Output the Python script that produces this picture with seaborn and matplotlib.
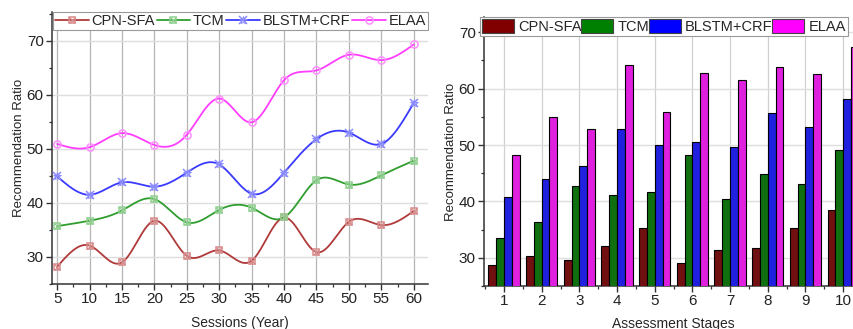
import numpy as np
import pandas as pd
import matplotlib
matplotlib.use("Agg")
import matplotlib.pyplot as plt
import seaborn as sns
from matplotlib.lines import Line2D
from matplotlib.patches import Patch
from matplotlib.ticker import MultipleLocator
from matplotlib.legend_handler import HandlerTuple

# ---------------- data ----------------
methods = ["CPN-SFA", "TCM", "BLSTM+CRF", "ELAA"]

sessions = [5, 10, 15, 20, 25, 30, 35, 40, 45, 50, 55, 60]
line_cpn = [28.2, 32.1, 29.0, 36.7, 30.2, 31.2, 29.3, 37.3, 30.9, 36.5, 35.9, 38.5]
line_tcm = [35.7, 36.7, 38.6, 40.7, 36.4, 38.7, 39.1, 37.3, 44.2, 43.4, 45.1, 47.8]
line_blstm = [44.9, 41.5, 43.8, 43.0, 45.6, 47.1, 41.7, 45.6, 51.8, 53.0, 50.9, 58.5]
line_elaa = [50.9, 50.3, 52.9, 50.7, 52.6, 59.3, 54.9, 62.7, 64.5, 67.4, 66.4, 69.3]

stages = [1, 2, 3, 4, 5, 6, 7, 8, 9, 10]
bar_cpn = [28.8, 30.3, 29.6, 32.1, 35.3, 29.1, 31.4, 31.7, 35.2, 38.4]
bar_tcm = [33.5, 36.3, 42.8, 41.1, 41.6, 48.2, 40.4, 44.8, 43.0, 49.1]
bar_blstm = [40.8, 44.0, 46.2, 52.8, 50.0, 50.6, 49.6, 55.7, 53.2, 58.2]
bar_elaa = [48.2, 55.0, 52.9, 64.1, 55.8, 62.7, 61.6, 63.8, 62.6, 67.3]

line_colors = ["#b03a3a", "#2f9e2f", "#3a3aff", "#ff3dff"]
marker_colors = ["#d88a8a", "#8fcf8f", "#8a8aff", "#ff8fff"]
bar_colors = ["#800000", "#008000", "#0000ff", "#ff00ff"]

# ---------------- helpers ----------------
def natural_spline(x, y, n=400):
    x = np.asarray(x, float)
    y = np.asarray(y, float)
    m = len(x)
    h = np.diff(x)
    A = np.zeros((m, m))
    r = np.zeros(m)
    A[0, 0] = A[-1, -1] = 1.0
    for i in range(1, m - 1):
        A[i, i - 1] = h[i - 1]
        A[i, i] = 2 * (h[i - 1] + h[i])
        A[i, i + 1] = h[i]
        r[i] = 6 * ((y[i + 1] - y[i]) / h[i] - (y[i] - y[i - 1]) / h[i - 1])
    M = np.linalg.solve(A, r)
    xs = np.linspace(x[0], x[-1], n)
    idx = np.clip(np.searchsorted(x, xs) - 1, 0, m - 2)
    x0, x1 = x[idx], x[idx + 1]
    hh = x1 - x0
    a = (x1 - xs) / hh
    b = (xs - x0) / hh
    ys = a * y[idx] + b * y[idx + 1] + ((a ** 3 - a) * M[idx] + (b ** 3 - b) * M[idx + 1]) * hh ** 2 / 6
    return xs, ys

# ---------------- style ----------------
sns.set_theme(style="white")
plt.rcParams["font.family"] = ["Liberation Sans", "DejaVu Sans"]
plt.rcParams["axes.edgecolor"] = "#333333"

W, H = 854, 329
fig = plt.figure(figsize=(W / 100, H / 100), dpi=100)

def fig_rect(l, t, r, b):
    return [l / W, 1 - b / H, (r - l) / W, (b - t) / H]

def style_axis(ax, xgrid_color):
    ax.grid(axis="x", which="major", color=xgrid_color, lw=0.9)
    ax.grid(axis="y", which="major", color="#dedede", lw=1.0)
    ax.set_axisbelow(True)
    for s in ["top", "right"]:
        ax.spines[s].set_visible(False)
    for s in ["left", "bottom"]:
        ax.spines[s].set_linewidth(1.1)
    ax.tick_params(which="major", direction="out", length=4, width=1, labelsize=11,
                   left=True, bottom=True, color="#333333", pad=2, labelcolor="#222222")
    ax.tick_params(which="minor", direction="out", length=2.5, width=0.9,
                   left=True, bottom=True, color="#333333")

# ---------------- left: smoothed line chart ----------------
ax1 = fig.add_axes(fig_rect(52, 12, 428, 284))
series = [line_cpn, line_tcm, line_blstm, line_elaa]
rows = []
for name, vals in zip(methods, series):
    xs, ys = natural_spline(sessions, vals)
    rows.append(pd.DataFrame({"x": xs, "y": ys, "method": name}))
smooth = pd.concat(rows, ignore_index=True)
sns.lineplot(data=smooth, x="x", y="y", hue="method", hue_order=methods,
             palette=dict(zip(methods, line_colors)), linewidth=1.3,
             sort=False, legend=False, ax=ax1, zorder=3)

handles = []
for i, (name, vals) in enumerate(zip(methods, series)):
    mc = marker_colors[i]
    lc = line_colors[i]
    if i < 2:
        ax1.plot(sessions, vals, ls="none", marker="s", ms=4.6, mfc="none", mec=mc, mew=1.1, zorder=4)
        ax1.plot(sessions, vals, ls="none", marker="x", ms=3.8, mec=mc, mew=0.9, zorder=4)
        h = (Line2D([], [], color=lc, lw=1.3, marker="s", ms=4.6, mfc="none", mec=mc, mew=1.1),
             Line2D([], [], ls="none", marker="x", ms=3.8, mec=mc, mew=0.9))
    elif i == 2:
        ax1.plot(sessions, vals, ls="none", marker="x", ms=6, mec=mc, mew=1.1, zorder=4)
        ax1.plot(sessions, vals, ls="none", marker="*", ms=6, mfc="none", mec=mc, mew=0.7, zorder=4)
        h = (Line2D([], [], color=lc, lw=1.3, marker="x", ms=6, mec=mc, mew=1.1),
             Line2D([], [], ls="none", marker="*", ms=6, mfc="none", mec=mc, mew=0.7))
    else:
        ax1.plot(sessions, vals, ls="none", marker="o", ms=5.2, mfc="none", mec=mc, mew=1.1, zorder=4)
        h = Line2D([], [], color=lc, lw=1.3, marker="o", ms=5.2, mfc="none", mec=mc, mew=1.1)
    handles.append(h)

ax1.set_xlim(4.2, 62.2)
ax1.set_ylim(25, 75.3)
ax1.set_xticks(sessions)
ax1.xaxis.set_minor_locator(MultipleLocator(2.5))
ax1.set_yticks([30, 40, 50, 60, 70])
ax1.yaxis.set_minor_locator(MultipleLocator(5))
style_axis(ax1, "#b5b5b5")
ax1.set_xlabel("Sessions (Year)", fontsize=10, labelpad=7)
ax1.set_ylabel("Recommendation Ratio", fontsize=9.5, labelpad=1)

leg1 = ax1.legend(handles, methods, loc="lower left", ncol=4, mode="expand",
                  bbox_to_anchor=(53 / W, 1 - 30 / H, (428 - 53) / W, 18 / H),
                  bbox_transform=fig.transFigure, borderaxespad=0,
                  fontsize=10.5, handlelength=2.3, handletextpad=0.2, columnspacing=0.0,
                  borderpad=0.15, fancybox=False, framealpha=1, edgecolor="#999999",
                  handler_map={tuple: HandlerTuple(ndivide=1)})
leg1.get_frame().set_linewidth(0.8)

# ---------------- right: grouped bar chart ----------------
ax2 = fig.add_axes(fig_rect(484, 17, 862, 286))
bars = pd.DataFrame({
    "stage": np.tile(stages, 4),
    "method": np.repeat(methods, len(stages)),
    "value": bar_cpn + bar_tcm + bar_blstm + bar_elaa,
})
sns.barplot(data=bars, x="stage", y="value", hue="method", hue_order=methods,
            palette=dict(zip(methods, bar_colors)), width=0.83,
            edgecolor="black", linewidth=0.8, legend=False, ax=ax2, zorder=3)
ax2.set_xlim(-0.53, 9.5)
ax2.set_ylim(25, 72.7)
ax2.set_yticks([30, 40, 50, 60, 70])
ax2.yaxis.set_minor_locator(MultipleLocator(5))
ax2.set_xticks(range(len(stages)))
ax2.set_xticklabels([str(s) for s in stages])
ax2.set_xticks(np.arange(-0.5, len(stages), 1.0), minor=True)
style_axis(ax2, "#d0d0d0")
ax2.set_xlabel("Assessment Stages", fontsize=10, labelpad=6)
ax2.set_ylabel("Recommendation Ratio", fontsize=9.5, labelpad=1.5)

bar_handles = [Patch(facecolor=c, edgecolor="#444444", lw=0.8) for c in bar_colors]
leg2 = ax2.legend(bar_handles, methods, loc="lower left", ncol=4, mode="expand",
                  bbox_to_anchor=(480 / W, 1 - 36 / H, (848 - 480) / W, 19 / H),
                  bbox_transform=fig.transFigure, borderaxespad=0,
                  fontsize=10.5, handlelength=2.2, handleheight=1.05, handletextpad=0.3,
                  columnspacing=0.0, borderpad=0.15, fancybox=False, framealpha=1,
                  edgecolor="#999999")
leg2.get_frame().set_linewidth(0.8)

fig.savefig("out.png", dpi=100)
